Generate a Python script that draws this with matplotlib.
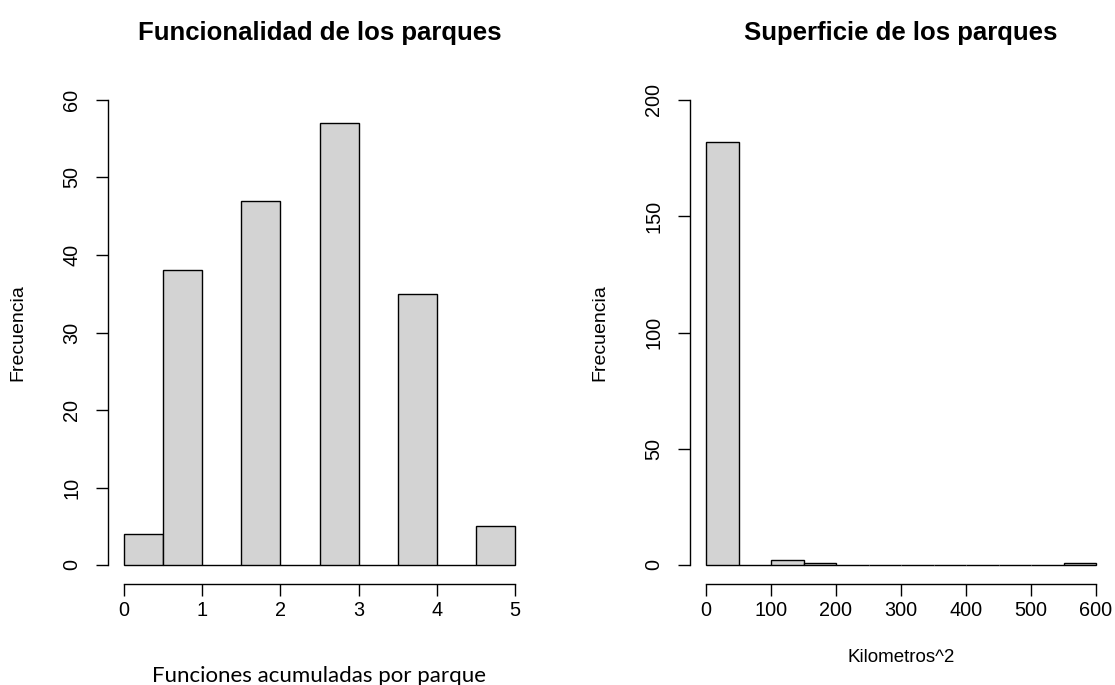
import matplotlib
matplotlib.use("Agg")
import matplotlib.pyplot as plt
import numpy as np

plt.rcParams['font.family'] = ['Liberation Sans', 'DejaVu Sans']

# Left histogram: Funcionalidad
func_edges = [0, 0.5, 1, 1.5, 2, 2.5, 3, 3.5, 4, 4.5, 5]
func_counts = [4, 38, 0, 47, 0, 57, 0, 35, 0, 5]
func_xticks = [0, 1, 2, 3, 4, 5]
func_yticks = [0, 10, 20, 30, 40, 50, 60]

# Right histogram: Superficie
sup_edges = [0, 50, 100, 150, 200, 250, 300, 350, 400, 450, 500, 550, 600]
sup_counts = [182, 0, 2, 1, 0, 0, 0, 0, 0, 0, 0, 1]
sup_xticks = [0, 100, 200, 300, 400, 500, 600]
sup_yticks = [0, 50, 100, 150, 200]

W, H = 1115, 685
fig = plt.figure(figsize=(W / 100, H / 100), dpi=100)

def make_ax(x0, x1, y0, y1, px_left, px_right, px_top, px_bottom):
    ax = fig.add_axes([px_left / W, 1 - px_bottom / H,
                       (px_right - px_left) / W, (px_bottom - px_top) / H])
    ax.set_xlim(x0, x1)
    ax.set_ylim(y0, y1)
    return ax

def style(ax, xt, yt, title):
    for s in ['top', 'right']:
        ax.spines[s].set_visible(False)
    ax.spines['left'].set_bounds(yt[0], yt[-1])
    ax.spines['bottom'].set_bounds(xt[0], xt[-1])
    for s in ['left', 'bottom']:
        ax.spines[s].set_linewidth(1.0)
    ax.set_xticks(xt)
    ax.set_yticks(yt)
    ax.tick_params(length=8.5, width=1.0, labelsize=14.3, colors='black')
    ax.tick_params(axis='x', pad=4)
    ax.tick_params(axis='y', pad=11)
    for lbl in ax.get_yticklabels():
        lbl.set_rotation(90)
        lbl.set_va('center')
    ax.set_title(title, fontsize=18.5, fontweight='bold', pad=30)
    ax.set_ylabel('Frecuencia', fontsize=14, labelpad=26)

# Left axes
axL = make_ax(-0.2, 5.2, -2.4, 62.4, 108.4, 530.6, 81.4, 583.6)
axL.bar(func_edges[:-1], func_counts, width=np.diff(func_edges), align='edge',
        color='#D3D3D3', edgecolor='black', linewidth=1.0)
style(axL, func_xticks, func_yticks, 'Funcionalidad de los parques')
axL.set_xlabel('Funciones acumuladas por parque', fontsize=16,
               family=['Lato', 'DejaVu Sans'], labelpad=33)

# Right axes
axR = make_ax(-24, 624, -8, 208, 690.4, 1111.6, 81.4, 583.6)
axR.bar(sup_edges[:-1], sup_counts, width=np.diff(sup_edges), align='edge',
        color='#D3D3D3', edgecolor='black', linewidth=1.0)
style(axR, sup_xticks, sup_yticks, 'Superficie de los parques')
axR.set_xlabel('Kilometros^2', fontsize=13.5, labelpad=21)

fig.savefig('out.png', dpi=100)
